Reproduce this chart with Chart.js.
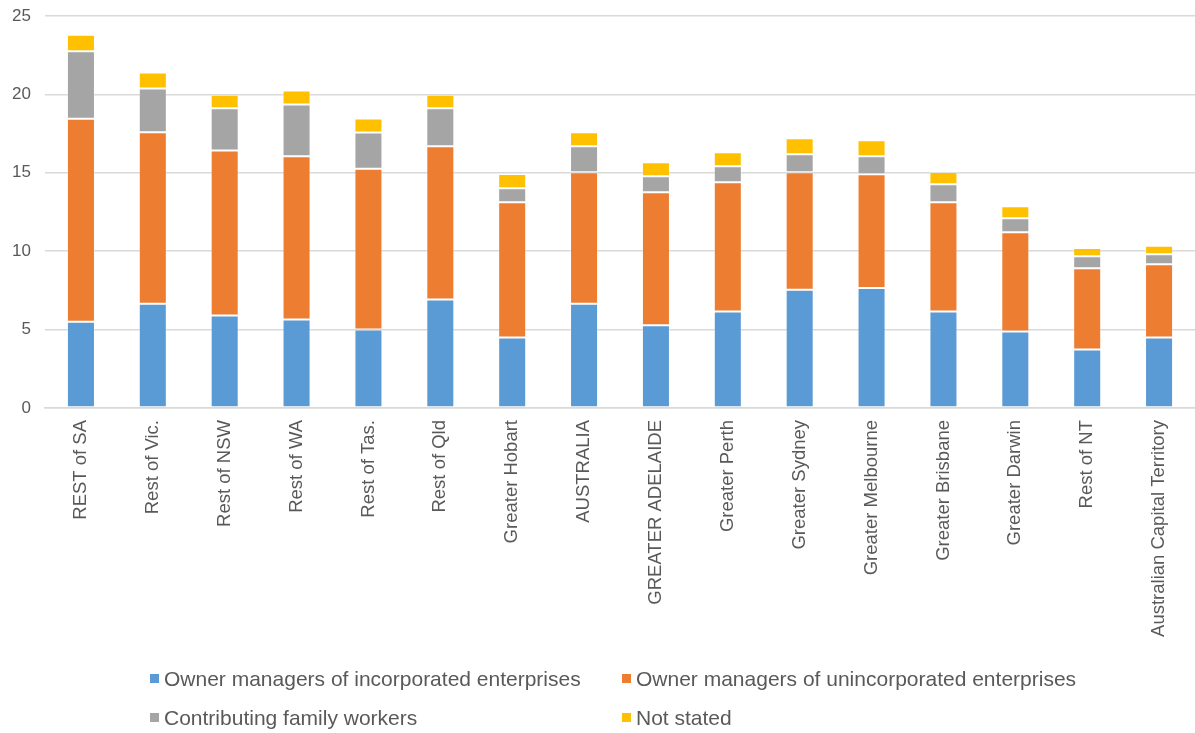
<!DOCTYPE html>
<html>
<head>
<meta charset="utf-8">
<script src="https://cdn.jsdelivr.net/npm/chart.js@4/dist/chart.umd.min.js"></script>
<style>
  html, body { margin: 0; padding: 0; background: #fff; }
  #wrap { width: 1195px; height: 733px; }
</style>
</head>
<body>
<div id="wrap"><canvas id="chart"></canvas></div>
<script>
const regions = [
  'REST of SA', 'Rest of Vic.', 'Rest of NSW', 'Rest of WA', 'Rest of Tas.', 'Rest of Qld',
  'Greater Hobart', 'AUSTRALIA', 'GREATER ADELAIDE', 'Greater Perth', 'Greater Sydney',
  'Greater Melbourne', 'Greater Brisbane', 'Greater Darwin', 'Rest of NT', 'Australian Capital Territory'
]

const incorporated = [5.5, 6.65, 5.9, 5.65, 5.0, 6.92, 4.5, 6.65, 5.27, 6.16, 7.54, 7.66, 6.15, 4.88, 3.73, 4.5]
const unincorporated = [12.95, 10.93, 10.53, 10.4, 10.26, 9.77, 8.62, 8.38, 8.49, 8.23, 7.49, 7.24, 6.97, 6.33, 5.19, 4.67]
const familyWorkers = [4.3, 2.8, 2.68, 3.31, 2.31, 2.42, 0.89, 1.66, 1.02, 1.02, 1.15, 1.15, 1.15, 0.89, 0.76, 0.64]
const notStated = [1.05, 1.02, 0.87, 0.89, 0.89, 0.87, 0.92, 0.89, 0.89, 0.9, 1.02, 1.02, 0.78, 0.77, 0.53, 0.53]

const yTicks = [0, 5, 10, 15, 20, 25]

const font = 'Liberation Sans, Arial, sans-serif'
const textColor = '#595959'

function series (label, data, color) {
  return {
    label: label,
    data: data,
    backgroundColor: color,
    borderColor: 'rgba(255,255,255,0.3)',
    borderWidth: 1,
    borderSkipped: false
  }
}

// legend laid out as a 2 column grid, like the original
const gridLegend = {
  id: 'gridLegend',
  afterDraw: (chart) => {
    const { ctx } = chart
    const cols = [150, 622]
    const rows = [679, 718]
    ctx.save()
    ctx.font = '21px ' + font
    ctx.textBaseline = 'middle'
    chart.data.datasets.forEach((ds, i) => {
      const x = cols[i % 2]
      const y = rows[Math.floor(i / 2)]
      ctx.fillStyle = ds.backgroundColor
      ctx.fillRect(x, y - 5, 9, 9)
      ctx.fillStyle = textColor
      ctx.fillText(ds.label, x + 14, y + 1)
    })
    ctx.restore()
  }
}

new Chart('chart', {
  type: 'bar',
  data: {
    labels: regions,
    datasets: [
      series('Owner managers of incorporated enterprises', incorporated, '#5B9BD5'),
      series('Owner managers of unincorporated enterprises', unincorporated, '#ED7D31'),
      series('Contributing family workers', familyWorkers, '#A5A5A5'),
      series('Not stated', notStated, '#FFC000')
    ]
  },
  options: {
    responsive: true,
    maintainAspectRatio: false,
    animation: false,
    layout: { padding: { top: 16, right: 0, bottom: 95, left: 0 } },
    datasets: {
      bar: { barPercentage: 0.39, categoryPercentage: 1 }
    },
    scales: {
      x: {
        stacked: true,
        grid: { display: false },
        border: { color: '#d9d9d9', width: 1.5 },
        ticks: {
          color: textColor,
          font: { family: font, size: 18.5 },
          minRotation: 90,
          maxRotation: 90,
          padding: 4,
          autoSkip: false
        },
        afterFit: (scale) => { scale.height = 230 }
      },
      y: {
        stacked: true,
        min: 0,
        max: 25,
        afterBuildTicks: (scale) => { scale.ticks = yTicks.map(v => ({ value: v })) },
        grid: { color: '#d9d9d9', lineWidth: 1.5, drawTicks: false },
        border: { display: false },
        ticks: {
          color: textColor,
          font: { family: font, size: 17 },
          padding: 14
        },
        afterFit: (scale) => {
          scale.width = 45
          scale.paddingTop = 0
        }
      }
    },
    plugins: {
      legend: { display: false },
      tooltip: { enabled: false }
    }
  },
  plugins: [gridLegend]
})
</script>
</body>
</html>
